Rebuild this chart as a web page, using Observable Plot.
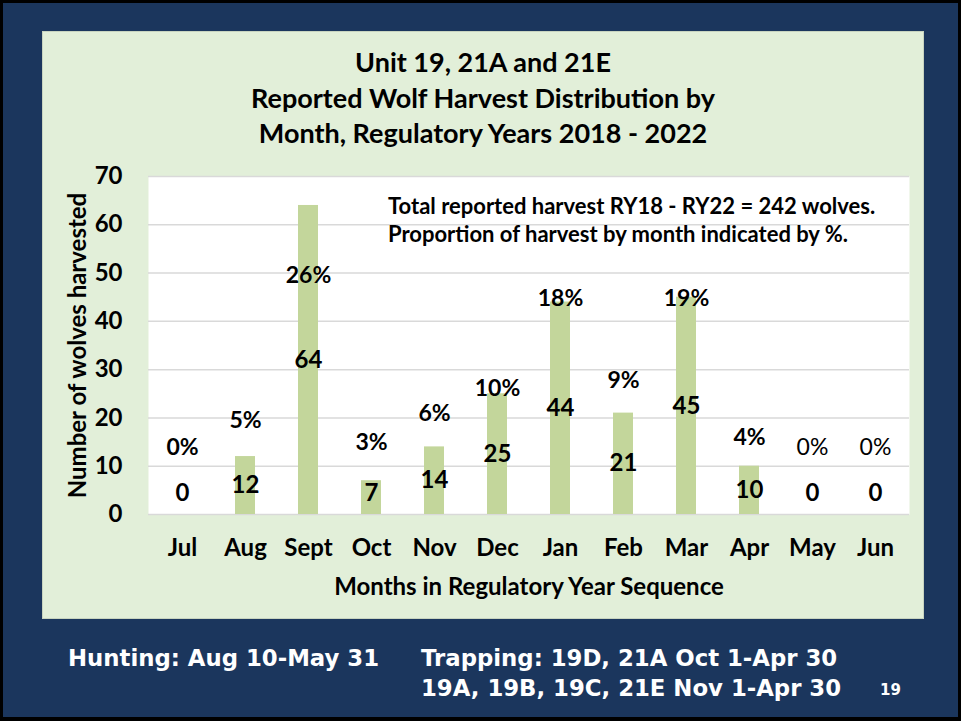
<!DOCTYPE html>
<html>
<head>
<meta charset="utf-8">
<script src="https://cdn.jsdelivr.net/npm/d3@7"></script>
<script src="https://cdn.jsdelivr.net/npm/@observablehq/plot@0.6"></script>
<style>
  html, body { margin: 0; padding: 0; background: #000; }
  #page { position: relative; width: 961px; height: 721px; background: #000; overflow: hidden; }
  #navy { position: absolute; left: 3px; top: 3px; width: 955px; height: 714px; background: #1B365D; }
  #panel { position: absolute; left: 42px; top: 31px; width: 882px; height: 588px; background: #E2EFD9; border: 1px solid #c8d4c0; box-sizing: border-box; }
  #title { position: absolute; left: 42px; top: 44px; width: 882px; text-align: center;
           font-family: Lato, "Open Sans", sans-serif; font-weight: bold; font-size: 27px; line-height: 35.5px; color: #000; }
  #chart { position: absolute; left: 42px; top: 150px; }
  #note { position: absolute; left: 388px; top: 192px; font-family: Lato, sans-serif; font-weight: bold;
          font-size: 22px; line-height: 28px; color: #000; white-space: nowrap; }
  .foot { position: absolute; font-family: "DejaVu Sans", sans-serif; font-weight: bold; color: #fff; white-space: nowrap; font-size: 22.8px; line-height: 24px; }
</style>
</head>
<body>
<div id="page">
  <div id="navy"></div>
  <div id="panel"></div>
  <div id="title">Unit 19, 21A and 21E<br>Reported Wolf Harvest Distribution by<br>Month, Regulatory Years 2018 - 2022</div>
  <div id="chart"></div>
  <div id="note">Total reported harvest RY18 - RY22 = 242 wolves.<br>Proportion of harvest by month indicated by %.</div>
  <div class="foot" style="left:68px; top:646px;">Hunting: Aug 10-May 31</div>
  <div class="foot" style="left:421px; top:646px;">Trapping: 19D, 21A Oct 1-Apr 30</div>
  <div class="foot" style="left:421px; top:676px;">19A, 19B, 19C, 21E Nov 1-Apr 30</div>
  <div class="foot" style="left:880px; top:678px; font-size:15px;">19</div>
</div>
<script>
const months = ["Jul", "Aug", "Sept", "Oct", "Nov", "Dec", "Jan", "Feb", "Mar", "Apr", "May", "Jun"];
const wolves = [0, 12, 64, 7, 14, 25, 44, 21, 45, 10, 0, 0];
const percentLabels = ["0%", "5%", "26%", "3%", "6%", "10%", "18%", "9%", "19%", "4%", "0%", "0%"];
// height (in wolves) at which each percent label sits in the reference
const percentLabelAt = [13.9, 19.5, 49.5, 14.9, 20.9, 26, 44.7, 27.7, 44.7, 16, 13.9, 13.9];
const plainPercentMonths = ["May", "Jun"];
const yTicks = [0, 10, 20, 30, 40, 50, 60, 70];

const data = months.map((m, i) => ({
  month: m, count: wolves[i], pct: percentLabels[i], pctAt: percentLabelAt[i]
}));
const boldPct = data.filter(d => !plainPercentMonths.includes(d.month));
const plainPct = data.filter(d => plainPercentMonths.includes(d.month));

const chart = Plot.plot({
  width: 882,
  height: 450,
  marginLeft: 106,
  marginRight: 15,
  marginTop: 26,
  marginBottom: 86,
  style: { background: "transparent", fontFamily: "Lato, sans-serif", fontSize: "24px", fontWeight: "bold", color: "#000", overflow: "visible" },
  x: { domain: months, paddingInner: 0.685, paddingOuter: 0.3425 },
  y: { domain: [0, 70] },
  marks: [
    Plot.frame({ fill: "white", stroke: null }),
    Plot.gridY(yTicks, { stroke: "#d9d9d9", strokeOpacity: 1, strokeWidth: 1.5 }),
    Plot.barY(data, { x: "month", y: "count", fill: "#C3D69B" }),
    Plot.text(data, { x: "month", y: d => Math.max(d.count / 2, 4.3), text: d => String(d.count), fill: "#000", fontSize: 24 }),
    Plot.text(boldPct, { x: "month", y: "pctAt", text: "pct", fill: "#000", fontSize: 23 }),
    Plot.text(plainPct, { x: "month", y: "pctAt", text: "pct", fill: "#000", fontSize: 23, fontWeight: "normal" }),
    Plot.axisY(yTicks, { tickSize: 0, tickPadding: 26, fontSize: 24, label: "Number of wolves harvested", labelAnchor: "center", labelOffset: 80, labelArrow: "none", fill: "#000" }),
    Plot.axisX({ tickSize: 0, tickPadding: 24, fontSize: 24, label: "Months in Regulatory Year Sequence", labelAnchor: "center", labelOffset: 80, labelArrow: "none", fill: "#000" })
  ]
});
document.getElementById("chart").appendChild(chart);
</script>
</body>
</html>
